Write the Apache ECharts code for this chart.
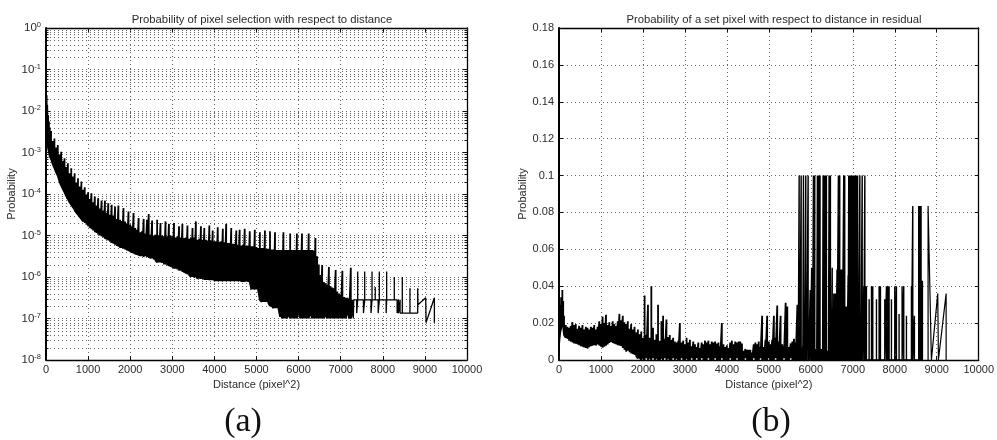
<!DOCTYPE html>
<html><head><meta charset="utf-8">
<style>html,body{margin:0;padding:0;background:#fff}#c{width:997px;height:440px}</style>
<script src="https://cdn.jsdelivr.net/npm/echarts@6/dist/echarts.min.js"></script>
</head><body><div id="c"></div>
<script>
// ---- axis ticks ----
const distanceTicksMax = 10000;
const leftDecades = [-8,-7,-6,-5,-4,-3,-2,-1,0];
const minorMultipliers = [2,3,4,5,6,7,8,9];

// ---- (a) probability of selection, log10 values ----
const aHeadX  = [0,15,30,50,70,90];
const aHeadHi = [-1.5,-1.62,-1.85,-2.1,-2.25,-2.4];
const aHeadLo = [-2.2,-2.5,-2.7,-2.9,-3.0,-3.1];
const aBodyStartX = 120, aBodyStepX = 40;
const aBodyHi = [
-2.48,-2.72,-2.66,-2.88,-2.82,-3.05,-2.98,-3.2,-3.14,-3.35,
-3.26,-3.5,-3.38,-3.58,-3.5,-3.72,-3.62,-3.82,-3.7,-3.9,
-3.84,-4.02,-3.96,-4.12,-3.98,-4.2,-4.06,-4.28,-4.1,-4.35,
-4.16,-4.4,-4.16,-4.45,-4.22,-4.5,-4.26,-4.52,-4.3,-4.6,
-4.28,-4.62,-4.65,-4.34,-4.66,-4.72,-4.42,-4.74,-4.78,-4.46,
-4.82,-4.86,-4.58,-4.92,-4.9,-4.6,-4.95,-4.62,-4.48,-4.98,
-4.64,-5,-4.98,-4.62,-5,-4.7,-5,-5.02,-4.66,-5.02,
-4.72,-5,-5.02,-4.7,-5.05,-5.02,-4.78,-5.05,-4.72,-5.06,
-5.05,-4.76,-5.08,-5.06,-4.82,-5.05,-4.66,-5.1,-5.08,-4.78,
-5.1,-4.82,-5.1,-5.12,-4.76,-5.12,-4.88,-5.14,-5.14,-4.8,
-5.15,-5.14,-4.84,-5.16,-4.72,-5.18,-5.18,-4.82,-5.2,-5.2,
-4.88,-5.22,-4.86,-5.24,-5.22,-4.84,-5.25,-5.24,-4.9,-5.26,
-5.26,-4.86,-5.28,-5.3,-4.92,-5.3,-5.3,-4.88,-5.32,-5.32,
-4.9,-5.34,-5.34,-4.92,-5.35,-5.35,-5.35,-5.35,-4.92,-5.35,
-5.35,-5.35,-4.95,-5.35,-5.35,-5.35,-4.95,-5.35,-5.35,-4.95,
-5.35,-5.35,-5.35,-4.95,-5.35,-5.35,-5.36,-5.06,-5.5,-5.7,
-5.95,-5.71,-6.12,-6.15,-6.18,-5.76,-6.22,-6.25,-6.27,-5.83,
-6.35,-6.4,-6.42,-5.85,-6.48,-6.5,-6.5,-6.52,-5.78,-6.55];
const aBodyLo = [
-3.15,-3.28,-3.38,-3.48,-3.56,-3.7,-3.8,-3.88,-3.96,-4.05,
-4.12,-4.2,-4.26,-4.32,-4.38,-4.45,-4.5,-4.55,-4.6,-4.66,
-4.7,-4.74,-4.78,-4.82,-4.85,-4.88,-4.92,-4.94,-4.98,-5.0,
-5.02,-5.05,-5.08,-5.1,-5.12,-5.15,-5.18,-5.2,-5.22,-5.25,
-5.27,-5.3,-5.3,-5.32,-5.34,-5.36,-5.38,-5.4,-5.42,-5.44,
-5.46,-5.47,-5.49,-5.5,-5.5,-5.52,-5.5,-5.52,-5.54,-5.56,
-5.55,-5.58,-5.6,-5.65,-5.65,-5.65,-5.66,-5.7,-5.7,-5.72,
-5.74,-5.76,-5.78,-5.8,-5.8,-5.82,-5.85,-5.85,-5.88,-5.9,
-5.92,-5.94,-5.95,-6.0,-6.0,-6.02,-5.98,-6.04,-6.04,-6.05,
-6.05,-6.07,-6.07,-6.07,-6.08,-6.08,-6.08,-6.1,-6.1,-6.1,
-6.1,-6.1,-6.1,-6.1,-6.1,-6.1,-6.1,-6.1,-6.1,-6.1,
-6.1,-6.1,-6.1,-6.12,-6.12,-6.12,-6.1,-6.12,-6.12,-6.3,
-6.3,-6.3,-6.3,-6.33,-6.55,-6.6,-6.6,-6.6,-6.6,-6.62,
-6.7,-6.7,-6.75,-6.75,-6.75,-6.75,-6.96,-7,-7,-7,
-7,-6.9,-7,-7,-7,-7,-7,-6.8,-7,-7,
-7,-7,-7,-7,-6.85,-7,-7,-7,-7,-7,
-7,-7,-7,-6.9,-7,-7,-7,-7,-7,-7,
-7,-7,-7,-7,-7,-7,-6.8,-7,-7,-6.9];
const aTailX = [7300,7310,7380,7380,7404,7404,7404,7540,7540,7570,7570,7570,7720,7720,7744,7744,7744,7820,7820,7820,7890,7890,7917,7917,7917,8080,8080,8092,8092,8092,8273,8273,8273,8340,8340,8370,8370,8410,8410,8463,8463,8463,8645,8645,8645,8829,8829,8835,9020,9028,9225,9225];
const aTailV = [-7,-6.55,-6.55,-6.87,-6.55,-5.87,-6.55,-6.55,-6.87,-6.55,-5.87,-6.55,-6.55,-6.87,-6.55,-5.87,-6.55,-6.55,-6.24,-6.55,-6.55,-6.87,-6.55,-5.87,-6.55,-6.55,-6.87,-6.55,-5.87,-6.55,-6.55,-6.0,-6.55,-6.55,-6.87,-6.55,-6.87,-6.55,-6.87,-6.87,-6.0,-6.87,-6.87,-6.27,-6.87,-6.87,-6.27,-6.67,-6.5,-7.1,-6.5,-7.1];

// ---- (b) probability of a set pixel ----
const bHeadX  = [0,15,30,50,65,80,100];
const bHeadHi = [.02,.028,.030,.034,.033,.038,.032];
const bHeadLo = [.008,.012,.015,.017,.019,.022,.018];
const bBodyStartX = 120, bBodyStepX = 40;
const bBodyHi = [
.024,.019,.018,.0175,.0185,.0205,.019,.0195,.017,.0185,
.0175,.019,.0165,.018,.0175,.0165,.018,.0175,.019,.0165,
.018,.021,.0195,.0235,.020,.0245,.019,.0205,.0185,.021,
.0195,.0185,.021,.025,.0215,.024,.0205,.0195,.021,.017,
.0195,.0165,.018,.015,.0165,.014,.0155,.012,.035,.0135,
.030,.012,.040,.0175,.011,.014,.030,.0105,.021,.024,
.0115,.022,.0125,.0135,.011,.012,.010,.0095,.0105,.020,
.0095,.0105,.0085,.0120,.0095,.0110,.0075,.0100,.0085,.0070,
.0095,.0065,.0095,.0085,.0105,.0095,.0105,.0085,.0100,.0095,
.0100,.0090,.0095,.0075,.0200,.0085,.0070,.0080,.0065,.0095,
.0105,.0085,.0100,.0095,.0100,.0100,.0090,.0050,.0060,.0055,
.0055,.0055,.0040,.0085,.0095,.0085,.0100,.0070,.0240,.0070,
.0110,.0240,.0100,.0085,.0110,.0240,.0120,.0295,.0100,.0240,
.0085,.0075,.0310,.0290,.0070,.0090,.0100,.0115,.0095,.0300];
const bBodyLo = [
.0135,.012,.0115,.0105,.010,.0095,.009,.0088,.0085,.008,
.0075,.0072,.0068,.0065,.0062,.007,.0075,.0078,.008,.0078,
.0085,.0078,.0072,.0067,.0072,.0078,.0085,.0092,.0098,.0092,
.0088,.0085,.008,.0078,.0075,.0065,.0055,.0045,.005,.0042,
.0035,.0032,.0028,.002,.0008,.0012,0,.002,0,.001,
0,.002,0,.001,0,.002,0,0,.002,0,
.001,0,.002,0,0,.001,0,.002,0,0,
.001,0,0,.002,0,0,.001,0,0,.001,
0,0,.001,0,0,0,.001,0,0,0,
.001,0,0,0,.001,0,0,0,0,.001,
0,0,0,.001,0,0,0,0,.001,0,
0,0,0,.001,0,0,0,.001,0,0,
0,0,.001,0,0,0,.001,0,0,0,
0,.001,0,0,0,.001,0,0,0,0];
// vertical excursions from zero between 5700 and 8800
const bBarX = [5700,5722,5740,5770,5780,5810,5825,5850,5880,5900,5936,5950,5985,6020,6040,6062,6080,6094,6120,6140,6157,6172,6189,6205,6220,6250,6280,6292,6310,6320,6350,6372,6400,6420,6435,6467,6490,6510,6530,6548,6570,6595,6625,6657,6689,6720,6750,6784,6808,6833,6860,6889,6903,6935,6965,6995,7025,7055,7085,7115,7135,7168,7195,7224,7262,7287,7294,7325,7389,7445,7476,7564,7627,7659,7762,7802,7833,7865,7921,8000,8040,8103,8175,8214,8278,8397,8429,8468,8571,8595,8627,8659];
const bBarV = [.007,.1,.006,.1,.005,.008,.1,.006,.1,.005,.1,.02,.038,.05,.012,.1,.005,.1,.006,.003,.1,.1,.1,.1,.1,.006,.002,.1,.003,.1,.1,.1,.005,.003,.1,.1,.02,.05,.025,.036,.036,.036,.049,.1,.1,.049,.049,.1,.1,.029,.029,.046,.1,.1,.1,.1,.1,.1,.1,.1,.025,.1,.024,.1,.04,.1,.04,.04,.033,.04,.04,.033,.04,.04,.033,.04,.04,.04,.033,.04,.04,.025,.04,.04,.024,.04,.0835,.024,.0835,.0835,.0835,.043];
const bTailX = [8794,8794,8873,9024,9040,9224,9224];
const bTailV = [0,.0835,0,.036,0,.036,0];

// ---- helpers that turn the arrays above into line paths ----
function zig(xs, lo, hi, conv) {
  const out = [];
  xs.forEach((x, i) => { out.push([x, conv(lo[i])], [x, conv(hi[i])], [x, conv(lo[i])]); });
  return out;
}
const pow10 = v => Math.pow(10, v);
const same = v => v;
const stepped = (start, step, n) => Array.from({length:n}, (_, i) => start + i * step);

const aBodyX = stepped(aBodyStartX, aBodyStepX, aBodyHi.length);
const bBodyX = stepped(bBodyStartX, bBodyStepX, bBodyHi.length);

const aBodyPath = zig(aHeadX, aHeadLo, aHeadHi, pow10).concat(zig(aBodyX, aBodyLo, aBodyHi, pow10));
const aTailPath = aTailX.map((x, i) => [x, pow10(aTailV[i])]);
const bBodyPath = zig(bHeadX, bHeadLo, bHeadHi, same).concat(zig(bBodyX, bBodyLo, bBodyHi, same));
const bBarPath = [];
bBarX.forEach((x, i) => { bBarPath.push([x, 0], [x, bBarV[i]], [x, 0]); });
const bTailPath = bTailX.map((x, i) => [x, bTailV[i]]);

const minorValues = [];
leftDecades.slice(0, -1).forEach(e => minorMultipliers.forEach(m => minorValues.push([0, m * Math.pow(10, e)])));

// ---- shared styling ----
const FONT = '"Liberation Sans", Arial, sans-serif';
const INK = '#2b2b2b';
const labelStyle = {color: INK, fontFamily: FONT, fontSize: 11, margin: 5};
const dotted = {show: true, lineStyle: {color: '#666', width: 1, type: [1, 3]}};
const axisLine = w => ({show: true, onZero: false, lineStyle: {color: '#000', width: w}});
const tick = {show: true, inside: true, length: 4, lineStyle: {color: '#111', width: 1}};

function xAxes(gridIndex) {
  const base = {type: 'value', gridIndex, min: 0, max: distanceTicksMax, interval: 1000};
  return [
    {...base, position: 'bottom', name: 'Distance (pixel^2)', nameLocation: 'middle', nameGap: 14,
     nameTextStyle: {color: INK, fontFamily: FONT, fontSize: 11},
     axisLine: axisLine(1.3), axisTick: tick, axisLabel: {...labelStyle, margin: 4, formatter: v => String(v)}, splitLine: dotted},
    {...base, position: 'top', axisLine: axisLine(1.3), axisTick: tick, axisLabel: {show: false}, splitLine: {show: false}}
  ];
}
const yName = {name: 'Probability', nameLocation: 'middle', nameTextStyle: {color: INK, fontFamily: FONT, fontSize: 11}};
const line = (xi, yi, data, w, z) => ({type: 'line', xAxisIndex: xi, yAxisIndex: yi, data, showSymbol: false, symbol: 'none',
  animation: false, silent: true, clip: true, z,
  lineStyle: {color: '#000', width: w, join: 'bevel', cap: 'butt'}});

const option = {
  animation: false,
  backgroundColor: '#fff',
  title: [
    {text: 'Probability of pixel selection with respect to distance', left: 257, top: 9, textAlign: 'center',
     textStyle: {color: INK, fontFamily: FONT, fontSize: 11.3, fontWeight: 'normal'}},
    {text: 'Probability of a set pixel with respect to distance in residual', left: 769, top: 9, textAlign: 'center',
     textStyle: {color: INK, fontFamily: FONT, fontSize: 11.3, fontWeight: 'normal'}},
    {text: '(a)', left: 238, top: 400, textAlign: 'center',
     textStyle: {color: '#111', fontFamily: '"Liberation Serif", serif', fontSize: 34, fontWeight: 'normal'}},
    {text: '(b)', left: 766, top: 400, textAlign: 'center',
     textStyle: {color: '#111', fontFamily: '"Liberation Serif", serif', fontSize: 34, fontWeight: 'normal'}}
  ],
  grid: [
    {left: 46, top: 28, width: 421, height: 332},
    {left: 559, top: 28, width: 420, height: 332}
  ],
  xAxis: [...xAxes(0), ...xAxes(1)],
  yAxis: [
    {...yName, type: 'log', logBase: 10, gridIndex: 0, min: 1e-8, max: 1, position: 'left', nameGap: 24,
     axisLine: axisLine(2), axisTick: tick, splitLine: dotted,
     axisLabel: {color: INK, fontFamily: FONT, fontSize: 11.5, margin: 5,
       formatter: v => '{b|10}{s|' + Math.round(Math.log10(v)) + '}',
       rich: {b: {fontFamily: FONT, fontSize: 11.5, color: INK}, s: {fontFamily: FONT, fontSize: 7.5, color: INK, verticalAlign: 'top', padding: [0, 0, 6, 0]}}}},
    {type: 'log', logBase: 10, gridIndex: 0, min: 1e-8, max: 1, position: 'right',
     axisLine: axisLine(1.3), axisTick: tick, axisLabel: {show: false}, splitLine: {show: false}},
    {...yName, type: 'value', gridIndex: 1, min: 0, max: 0.18, interval: 0.02, position: 'left', nameGap: 21,
     axisLine: axisLine(2), axisTick: tick, splitLine: dotted,
     axisLabel: {...labelStyle, formatter: v => String(+v.toFixed(2))}},
    {type: 'value', gridIndex: 1, min: 0, max: 0.18, interval: 0.02, position: 'right',
     axisLine: axisLine(1.3), axisTick: tick, axisLabel: {show: false}, splitLine: {show: false}}
  ],
  series: [
    {type: 'custom', xAxisIndex: 0, yAxisIndex: 0, data: minorValues, encode: {x: 0, y: 1}, silent: true, z: 1, clip: false,
     renderItem(params, api) {
       const r = params.coordSys;
       const y = Math.round(api.coord([0, api.value(1)])[1]) + 0.5;
       const seg = (x1, x2, style) => ({type: 'line', shape: {x1, y1: y, x2, y2: y}, style});
       return {type: 'group', children: [
         seg(r.x, r.x + r.width, {stroke: '#666', lineWidth: 1, lineDash: [1, 3]}),
         seg(r.x, r.x + 2.5, {stroke: '#111', lineWidth: 1}),
         seg(r.x + r.width - 2.5, r.x + r.width, {stroke: '#111', lineWidth: 1})
       ]};
     }},
    line(0, 0, aBodyPath, 1.8, 5),
    line(0, 0, aTailPath, 1.3, 5),
    line(2, 2, bBodyPath, 1.8, 5),
    line(2, 2, bBarPath, 1.4, 5),
    line(2, 2, bTailPath, 1.2, 5)
  ]
};
const chart = echarts.init(document.getElementById('c'), null, {renderer: 'canvas'});
chart.setOption(option);
</script>
</body></html>
